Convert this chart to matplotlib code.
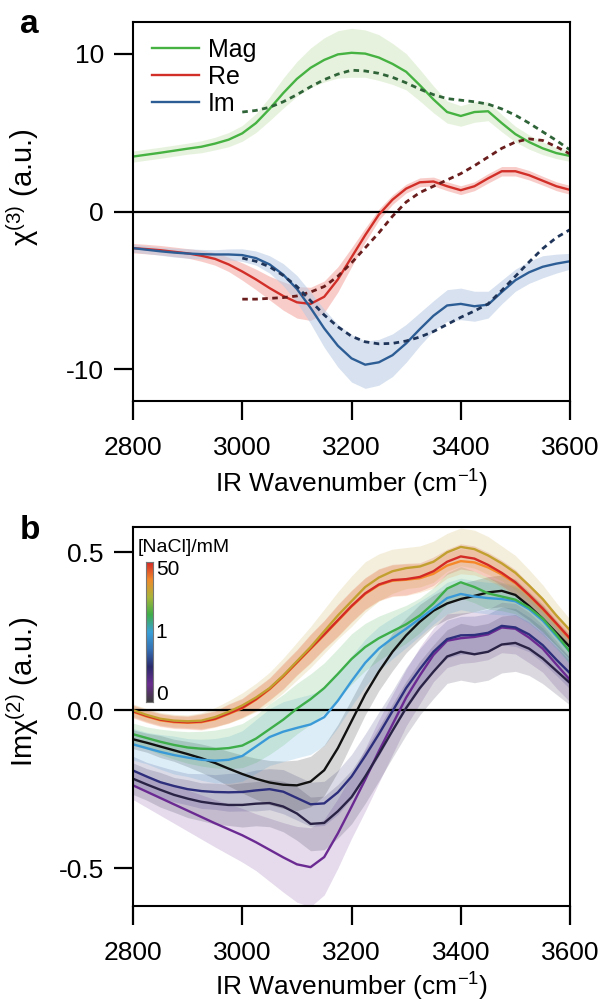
import numpy as np
import matplotlib
matplotlib.use("Agg")
import matplotlib.pyplot as plt
from matplotlib.colors import LinearSegmentedColormap

plt.rcParams['font.family'] = ['Liberation Sans', 'DejaVu Sans']
plt.rcParams['mathtext.fontset'] = 'custom'
plt.rcParams['mathtext.rm'] = 'Liberation Sans'
plt.rcParams['mathtext.it'] = 'Liberation Sans'

# wavenumber grid the curves were read at (cm-1)
wn = [2800, 2825, 2850, 2875, 2900, 2925, 2950, 2975, 3000, 3025, 3050, 3075, 3100,
      3125, 3150, 3175, 3200, 3225, 3250, 3275, 3300, 3325, 3350, 3375, 3400,
      3425, 3450, 3475, 3500, 3525, 3550, 3575, 3600]
wn_calc = wn[8:]  # calculated (dashed) spectra start at 3000

# ---- panel a : chi(3) ----
mag = [3.48, 3.6, 3.72, 3.85, 3.98, 4.1, 4.3, 4.55, 4.95, 5.6, 6.5, 7.5, 8.4,
       9.1, 9.6, 9.95, 10.05, 10.0, 9.75, 9.35, 8.85, 8.0, 7.1, 6.3, 6.05,
       6.3, 6.35, 5.6, 4.9, 4.4, 4.0, 3.7, 3.52]
mag_err = [0.35, 0.35, 0.35, 0.35, 0.35, 0.38, 0.4, 0.45, 0.5, 0.6, 0.75, 0.95, 1.1,
           1.25, 1.4, 1.5, 1.55, 1.5, 1.45, 1.3, 1.15, 1.0, 0.85, 0.7, 0.65,
           0.65, 0.6, 0.55, 0.5, 0.45, 0.4, 0.35, 0.35]
re = [-2.32, -2.38, -2.45, -2.55, -2.65, -2.8, -3.0, -3.35, -3.8, -4.3, -4.85, -5.35, -5.75,
      -5.85, -5.4, -4.3, -2.9, -1.5, -0.2, 0.75, 1.45, 1.85, 1.9, 1.6, 1.35,
      1.6, 2.1, 2.55, 2.55, 2.3, 1.95, 1.6, 1.37]
re_err = [0.3, 0.3, 0.3, 0.3, 0.3, 0.35, 0.4, 0.45, 0.55, 0.65, 0.75, 0.9, 1.0,
          1.05, 1.0, 0.8, 0.6, 0.45, 0.35, 0.3, 0.28, 0.28, 0.28, 0.28, 0.28,
          0.28, 0.3, 0.3, 0.3, 0.3, 0.28, 0.28, 0.28]
im = [-2.32, -2.42, -2.52, -2.6, -2.66, -2.7, -2.72, -2.72, -2.76, -2.95, -3.35, -4.0, -4.9,
      -6.1, -7.4, -8.5, -9.3, -9.7, -9.55, -9.1, -8.35, -7.45, -6.6, -5.95, -5.85,
      -6.0, -5.9, -5.1, -4.35, -3.85, -3.5, -3.3, -3.15]
im_err = [0.25, 0.25, 0.25, 0.28, 0.3, 0.3, 0.3, 0.35, 0.4, 0.45, 0.55, 0.7, 0.85,
          1.0, 1.2, 1.35, 1.5, 1.5, 1.45, 1.35, 1.2, 1.05, 0.95, 1.0, 1.0,
          0.95, 0.85, 0.75, 0.7, 0.7, 0.7, 0.6, 0.5]

mag_calc = [6.3, 6.4, 6.6, 6.95, 7.4, 7.9, 8.35, 8.7, 8.95, 8.9, 8.75, 8.5, 8.15,
            7.75, 7.4, 7.15, 7.05, 6.95, 6.8, 6.5, 6.1, 5.6, 5.05, 4.5, 3.9]
re_calc = [-5.55, -5.55, -5.5, -5.45, -5.35, -5.1, -4.75, -4.1, -3.25, -2.3, -1.35, -0.3, 0.6,
           1.2, 1.6, 2.0, 2.4, 2.9, 3.45, 4.0, 4.4, 4.6, 4.5, 4.1, 3.65]
im_calc = [-2.95, -3.15, -3.5, -4.05, -4.75, -5.65, -6.55, -7.3, -7.9, -8.25, -8.38, -8.35, -8.2,
           -7.95, -7.6, -7.15, -6.7, -6.3, -5.85, -5.0, -4.1, -3.2, -2.35, -1.65, -1.15]

# ---- panel b : Im chi(2) vs [NaCl] ----
imchi2 = {
    'purple': [-0.238, -0.258, -0.278, -0.298, -0.318, -0.338, -0.358, -0.377, -0.396, -0.418, -0.442, -0.466, -0.488,
               -0.497, -0.465, -0.39, -0.306, -0.22, -0.13, -0.045, 0.04, 0.11, 0.175, 0.22, 0.228,
               0.232, 0.24, 0.262, 0.258, 0.23, 0.195, 0.145, 0.096],
    'dark': [-0.217, -0.235, -0.252, -0.268, -0.28, -0.29, -0.296, -0.3, -0.3, -0.296, -0.294, -0.305, -0.327,
             -0.36, -0.357, -0.32, -0.275, -0.21, -0.139, -0.065, 0.007, 0.07, 0.122, 0.17, 0.185,
             0.177, 0.185, 0.208, 0.213, 0.195, 0.164, 0.125, 0.086],
    'navy': [-0.191, -0.21, -0.228, -0.24, -0.25, -0.256, -0.259, -0.26, -0.259, -0.254, -0.25, -0.258, -0.278,
             -0.298, -0.295, -0.26, -0.21, -0.145, -0.076, -0.003, 0.07, 0.13, 0.185, 0.225, 0.237,
             0.238, 0.245, 0.267, 0.262, 0.24, 0.206, 0.16, 0.117],
    'black': [-0.092, -0.103, -0.115, -0.127, -0.139, -0.152, -0.167, -0.185, -0.202, -0.217, -0.229, -0.236, -0.238,
              -0.226, -0.19, -0.12, -0.035, 0.05, 0.122, 0.185, 0.237, 0.28, 0.315, 0.338, 0.352,
              0.362, 0.373, 0.378, 0.365, 0.33, 0.29, 0.245, 0.2],
    'lightblue': [-0.108, -0.12, -0.132, -0.142, -0.15, -0.157, -0.16, -0.157, -0.145, -0.115, -0.085, -0.068, -0.056,
                  -0.045, -0.022, 0.03, 0.092, 0.15, 0.195, 0.228, 0.258, 0.29, 0.322, 0.355, 0.368,
                  0.36, 0.355, 0.352, 0.345, 0.32, 0.284, 0.235, 0.185],
    'green': [-0.076, -0.088, -0.1, -0.11, -0.118, -0.122, -0.123, -0.12, -0.112, -0.09, -0.06, -0.03, 0.005,
              0.035, 0.07, 0.115, 0.162, 0.2, 0.228, 0.25, 0.272, 0.3, 0.338, 0.385, 0.405,
              0.39, 0.37, 0.36, 0.35, 0.325, 0.29, 0.24, 0.185],
    'orange': [-0.005, -0.02, -0.032, -0.038, -0.04, -0.038, -0.029, -0.012, 0.006, 0.033, 0.066, 0.106, 0.15,
               0.194, 0.238, 0.283, 0.328, 0.368, 0.396, 0.41, 0.413, 0.418, 0.432, 0.458, 0.472,
               0.468, 0.452, 0.43, 0.402, 0.363, 0.32, 0.273, 0.225],
    'red': [-0.003, -0.018, -0.03, -0.036, -0.038, -0.036, -0.027, -0.01, 0.008, 0.035, 0.068, 0.108, 0.152,
            0.196, 0.24, 0.285, 0.33, 0.37, 0.398, 0.412, 0.415, 0.422, 0.44, 0.47, 0.487,
            0.48, 0.46, 0.435, 0.405, 0.365, 0.322, 0.275, 0.227],
    'gold': [0.0, -0.015, -0.027, -0.033, -0.035, -0.033, -0.022, -0.005, 0.015, 0.04, 0.07, 0.11, 0.155,
             0.2, 0.25, 0.3, 0.345, 0.39, 0.42, 0.44, 0.45, 0.455, 0.47, 0.5, 0.517,
             0.51, 0.49, 0.465, 0.435, 0.395, 0.352, 0.3, 0.253],
}
imchi2_err = {
    'purple': [0.045, 0.05, 0.055, 0.06, 0.065, 0.07, 0.075, 0.08, 0.085, 0.09, 0.1, 0.11, 0.12,
               0.125, 0.12, 0.11, 0.1, 0.1, 0.1, 0.095, 0.09, 0.09, 0.085, 0.085, 0.08,
               0.08, 0.08, 0.08, 0.08, 0.08, 0.075, 0.075, 0.07],
    'dark': [0.05, 0.05, 0.055, 0.055, 0.06, 0.06, 0.065, 0.065, 0.07, 0.07, 0.075, 0.08, 0.085,
             0.085, 0.085, 0.085, 0.085, 0.085, 0.085, 0.085, 0.085, 0.085, 0.085, 0.085, 0.09,
             0.09, 0.09, 0.09, 0.09, 0.085, 0.08, 0.075, 0.07],
    'navy': [0.045, 0.045, 0.05, 0.05, 0.05, 0.055, 0.055, 0.06, 0.06, 0.065, 0.065, 0.07, 0.07,
             0.07, 0.07, 0.07, 0.07, 0.07, 0.07, 0.065, 0.065, 0.065, 0.06, 0.06, 0.06,
             0.06, 0.06, 0.06, 0.06, 0.055, 0.055, 0.05, 0.05],
    'black': [0.03, 0.03, 0.035, 0.035, 0.04, 0.045, 0.05, 0.055, 0.06, 0.065, 0.07, 0.075, 0.08,
              0.08, 0.08, 0.075, 0.07, 0.065, 0.06, 0.06, 0.055, 0.055, 0.05, 0.05, 0.05,
              0.05, 0.05, 0.05, 0.05, 0.045, 0.045, 0.04, 0.04],
    'lightblue': [0.05, 0.05, 0.055, 0.06, 0.06, 0.065, 0.07, 0.075, 0.08, 0.085, 0.09, 0.095, 0.095,
                  0.095, 0.09, 0.085, 0.08, 0.075, 0.07, 0.065, 0.06, 0.055, 0.05, 0.05, 0.05,
                  0.05, 0.05, 0.05, 0.045, 0.045, 0.045, 0.04, 0.04],
    'green': [0.035, 0.035, 0.04, 0.045, 0.05, 0.055, 0.06, 0.065, 0.07, 0.075, 0.08, 0.08, 0.08,
              0.08, 0.08, 0.08, 0.08, 0.075, 0.07, 0.065, 0.06, 0.055, 0.05, 0.05, 0.05,
              0.05, 0.05, 0.045, 0.045, 0.045, 0.04, 0.04, 0.04],
    'orange': [0.02, 0.02, 0.02, 0.02, 0.02, 0.025, 0.025, 0.03, 0.03, 0.035, 0.035, 0.04, 0.04,
               0.045, 0.045, 0.05, 0.05, 0.05, 0.05, 0.05, 0.05, 0.045, 0.045, 0.04, 0.04,
               0.04, 0.04, 0.04, 0.04, 0.035, 0.035, 0.03, 0.03],
    'red': [0.02, 0.02, 0.02, 0.02, 0.02, 0.025, 0.025, 0.03, 0.03, 0.035, 0.035, 0.04, 0.04,
            0.045, 0.045, 0.05, 0.05, 0.05, 0.05, 0.05, 0.05, 0.045, 0.045, 0.04, 0.04,
            0.04, 0.04, 0.04, 0.04, 0.035, 0.035, 0.03, 0.03],
    'gold': [0.02, 0.02, 0.02, 0.02, 0.02, 0.025, 0.03, 0.035, 0.04, 0.045, 0.05, 0.055, 0.06,
             0.065, 0.07, 0.075, 0.08, 0.08, 0.075, 0.07, 0.065, 0.065, 0.065, 0.06, 0.06,
             0.06, 0.06, 0.055, 0.055, 0.05, 0.045, 0.04, 0.035],
}
colors_b = {
    'purple': '#6a2a92', 'dark': '#2a2345', 'navy': '#2d2e7c', 'black': '#111111',
    'lightblue': '#3a9ad8', 'green': '#3dae49', 'orange': '#f5892a', 'red': '#d42a26', 'gold': '#c2a030',
}
cbar_colors = ['#3c3c3c', '#6b2d8f', '#2b2a6b', '#3570b5', '#3aa0d8', '#3fae49', '#a9b53a', '#f08a2c', '#d42a27']
cbar_labels = ['0', '1', '50']


def style_axes(ax):
    for s in ax.spines.values():
        s.set_linewidth(1.5)
        s.set_color('black')
    ax.tick_params(which='major', direction='out', length=14, width=1.6, color='black',
                   labelsize=19)
    ax.tick_params(axis='x', pad=11)
    ax.tick_params(axis='y', pad=7)
    ax.set_xlim(2800, 3600)
    ax.set_xticks([2800, 3000, 3200, 3400, 3600])


fig = plt.figure(figsize=(6.03, 10.01), dpi=100)
axa = fig.add_axes([0.2206, 0.5994, 0.7247, 0.3786])
axb = fig.add_axes([0.2206, 0.0949, 0.7247, 0.3786])

# panel a
axa.fill_between(wn, np.array(mag) - mag_err, np.array(mag) + mag_err, color='#d3e9c2', alpha=0.55, lw=0)
axa.fill_between(wn, np.array(re) - re_err, np.array(re) + re_err, color='#f3a49e', alpha=0.55, lw=0)
axa.fill_between(wn, np.array(im) - im_err, np.array(im) + im_err, color='#b8cae3', alpha=0.55, lw=0)
axa.axhline(0, color='black', lw=1.6)
axa.plot(wn, mag, color='#45b241', lw=1.7, label='Mag')
axa.plot(wn, re, color='#d22f29', lw=1.7, label='Re')
axa.plot(wn, im, color='#2d5d95', lw=1.7, label='Im')
axa.plot(wn_calc, mag_calc, color='#2f6338', lw=2.0, ls=(0, (2.0, 1.6)))
axa.plot(wn_calc, re_calc, color='#6a1d1d', lw=2.0, ls=(0, (2.0, 1.6)))
axa.plot(wn_calc, im_calc, color='#20355a', lw=2.0, ls=(0, (2.0, 1.6)))
style_axes(axa)
axa.set_ylim(-12, 12)
axa.set_yticks([-10, 0, 10])
axa.set_yticklabels(['-10', '0', '10'])
axa.set_xlabel('IR Wavenumber (cm$^{-1}$)', fontsize=19)
axa.xaxis.set_label_coords(0.5, -0.175)
axa.set_ylabel(r'χ$^{(3)}$ (a.u.)', fontsize=21)
axa.yaxis.set_label_coords(-0.21, 0.565)
axa.legend(loc='upper left', bbox_to_anchor=(0.02, 0.985), frameon=False, fontsize=18,
           handlelength=1.9, handletextpad=0.35, labelspacing=0.12, borderaxespad=0)

# panel b
for k in imchi2:
    y = np.array(imchi2[k])
    e = np.array(imchi2_err[k])
    axb.fill_between(wn, y - e, y + e, color=colors_b[k], alpha=0.17, lw=0)
axb.axhline(0, color='black', lw=1.6)
for k in imchi2:
    axb.plot(wn, imchi2[k], color=colors_b[k], lw=1.7)
style_axes(axb)
axb.set_ylim(-0.62, 0.58)
axb.set_yticks([-0.5, 0.0, 0.5])
axb.set_yticklabels(['-0.5', '0.0', '0.5'])
axb.set_xlabel('IR Wavenumber (cm$^{-1}$)', fontsize=19)
axb.xaxis.set_label_coords(0.5, -0.17)
axb.set_ylabel(r'Imχ$^{(2)}$ (a.u.)', fontsize=21)
axb.yaxis.set_label_coords(-0.21, 0.566)

# concentration colour bar
cax = axb.inset_axes([0.03, 0.539, 0.016, 0.369])
cmap = LinearSegmentedColormap.from_list('nacl', cbar_colors)
cax.imshow(np.linspace(0, 1, 256)[:, None], aspect='auto', cmap=cmap, origin='lower')
cax.set_xticks([])
cax.set_yticks([])
for s in cax.spines.values():
    s.set_color('#777777')
    s.set_linewidth(0.8)
axb.text(0.011, 0.947, '[NaCl]/mM', transform=axb.transAxes, fontsize=14, va='center', ha='left')
for lab, yy in zip(cbar_labels, [0.558, 0.721, 0.887]):
    axb.text(0.052, yy, lab, transform=axb.transAxes, fontsize=15, va='center', ha='left')

fig.text(0.033, 0.976, 'a', fontsize=24, fontweight='bold', va='center', ha='left')
fig.text(0.033, 0.4705, 'b', fontsize=24, fontweight='bold', va='center', ha='left')

fig.savefig('out.png', dpi=100)
